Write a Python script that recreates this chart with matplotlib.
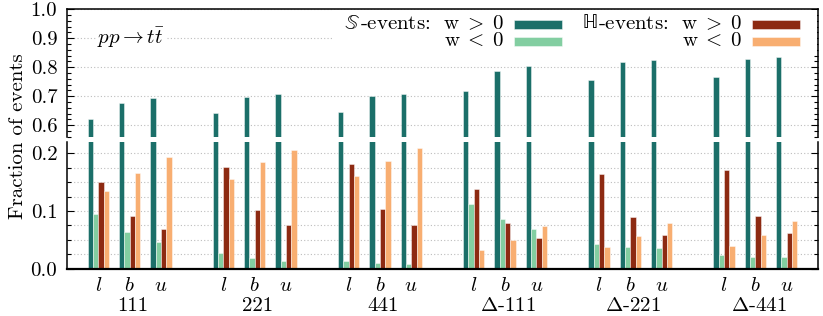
import matplotlib.pyplot as plt
from matplotlib.patches import Rectangle
from matplotlib.ticker import MultipleLocator, FormatStrFormatter
import numpy as np

plt.rcParams.update({
    "font.family": "serif",
    "font.serif": ["cmr10"],
    "mathtext.fontset": "cm",
    "axes.formatter.use_mathtext": True,
    "font.size": 15,
})

groups = ["111", "221", "441", r"$\Delta$-111", r"$\Delta$-221", r"$\Delta$-441"]
flavours = ["l", "b", "u"]

# fractions, order: group by group, l / b / u inside each group
s_pos = [0.622, 0.678, 0.692, 0.641, 0.698, 0.706, 0.645, 0.700, 0.708,
         0.719, 0.786, 0.804, 0.756, 0.818, 0.825, 0.767, 0.828, 0.836]
s_neg = [0.095, 0.064, 0.046, 0.027, 0.018, 0.014, 0.013, 0.009, 0.008,
         0.112, 0.086, 0.068, 0.043, 0.037, 0.036, 0.023, 0.021, 0.021]
h_pos = [0.150, 0.091, 0.069, 0.176, 0.102, 0.075, 0.182, 0.104, 0.076,
         0.138, 0.079, 0.054, 0.164, 0.089, 0.058, 0.171, 0.092, 0.061]
h_neg = [0.134, 0.166, 0.193, 0.156, 0.184, 0.206, 0.161, 0.187, 0.209,
         0.032, 0.050, 0.074, 0.038, 0.056, 0.080, 0.039, 0.058, 0.083]

series = [s_pos, s_neg, h_pos, h_neg]
colors = ["#1b6f69", "#83cea1", "#8d2a12", "#f8ae71"]

x = np.array([4 * g + s for g in range(len(groups)) for s in range(len(flavours))])
w = 0.17

fig = plt.figure(figsize=(8.23, 3.16), dpi=100)
ax_top = fig.add_axes([0.0814, 0.5674, 0.9125, 0.4032])
ax_bot = fig.add_axes([0.0814, 0.1497, 0.9125, 0.4019])

for ax in (ax_top, ax_bot):
    for i, (vals, c) in enumerate(zip(series, colors)):
        ax.bar(x + (i - 1.5) * w, vals, width=w, color=c,
               edgecolor=(1, 1, 1, 0.45), linewidth=0.7, zorder=2)
    ax.set_xlim(-1, 23)
    ax.set_axisbelow(True)
    ax.tick_params(axis="y", which="both", direction="in", left=True, right=True, labelsize=15)
    ax.tick_params(axis="y", which="major", length=5, width=0.8, pad=7)
    ax.tick_params(axis="y", which="minor", length=3, width=0.8)
    for sp in ax.spines.values():
        sp.set_linewidth(1.1)

# top panel
ax_top.set_ylim(0.56, 1.0)
ax_top.yaxis.set_major_locator(MultipleLocator(0.1))
ax_top.yaxis.set_minor_locator(MultipleLocator(0.02))
ax_top.yaxis.set_major_formatter(FormatStrFormatter("%.1f"))
ax_top.grid(axis="y", which="major", color="#bdbdbd", linestyle=(0, (1, 2)), linewidth=0.8)
ax_top.spines["bottom"].set_visible(False)
ax_top.set_xticks([])

# bottom panel
ax_bot.set_ylim(0, 0.22)
ax_bot.yaxis.set_major_locator(MultipleLocator(0.1))
ax_bot.yaxis.set_minor_locator(MultipleLocator(0.025))
ax_bot.yaxis.set_major_formatter(FormatStrFormatter("%.1f"))
ax_bot.grid(axis="y", which="both", color="#bdbdbd", linestyle=(0, (1, 2)), linewidth=0.8)
ax_bot.spines["top"].set_visible(False)
ax_bot.spines["bottom"].set_linewidth(1.6)
ax_bot.set_xticks(x, [f"${f}$" for g in groups for f in flavours])
ax_bot.tick_params(axis="x", length=0, pad=6, labelsize=15)
for g, name in enumerate(groups):
    ax_bot.text(4 * g + 1.1, -0.295, name, transform=ax_bot.get_xaxis_transform(),
                ha="center", va="center", fontsize=15)

# process label
ax_top.text(-0.03, 0.9, r"$pp \to t\bar{t}$", ha="left", va="center", fontsize=15,
            bbox=dict(facecolor="white", edgecolor="none", pad=1), zorder=3)

# legend, drawn by hand in gnuplot key style
ax_top.add_patch(Rectangle((0.353, 0.66), 0.646, 0.338, transform=ax_top.transAxes,
                           facecolor="white", edgecolor="none", zorder=3))
gt = r"$\mathrm{w}\;>\;0$"
lt = r"$\mathrm{w}\;<\;0$"
key = [
    (0.582, 0.845, "S", gt, 0.595, colors[0]),
    (0.582, 0.712, None, lt, 0.595, colors[1]),
    (0.899, 0.845, "H", gt, 0.912, colors[2]),
    (0.899, 0.712, None, lt, 0.912, colors[3]),
]
for tx, ty, kind, label, px, c in key:
    if kind is not None:
        label = "-events:  " + label
    t = ax_top.text(tx, ty, label, transform=ax_top.transAxes, ha="right", va="baseline",
                    fontsize=15, zorder=4)
    if kind == "S":
        ax_top.annotate(r"$\mathbb{S}$", xy=(0, 0), xycoords=t, ha="right",
                        va="bottom", fontsize=15, math_fontfamily="stix", zorder=4)
    elif kind == "H":
        ax_top.annotate("\u210D", xy=(0, 0), xycoords=t, ha="right",
                        va="bottom", fontsize=15, family="STIXGeneral", zorder=4)
    ax_top.add_patch(Rectangle((px, ty), 0.064, 0.068, transform=ax_top.transAxes,
                               facecolor=c, edgecolor=(1, 1, 1, 0.45), linewidth=0.7, zorder=4))

fig.text(0.022, 0.57, "Fraction of events", rotation=90, ha="center", va="center", fontsize=15)

fig.savefig("out.png", dpi=100)
